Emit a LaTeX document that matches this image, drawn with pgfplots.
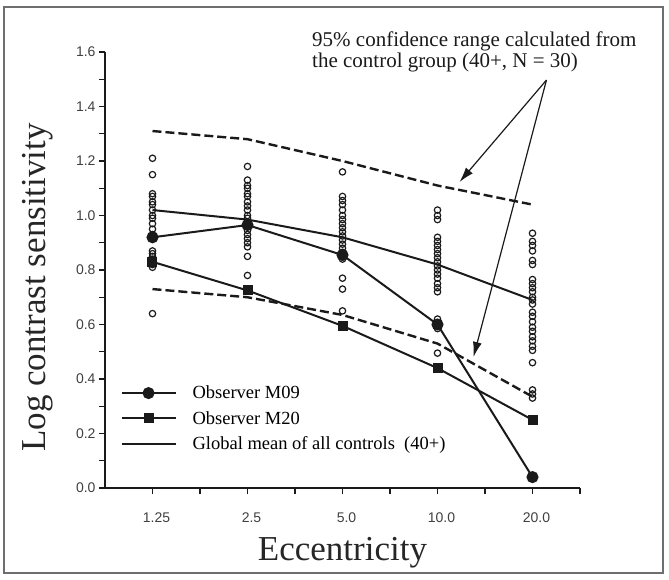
\documentclass[border=0pt]{standalone}
\usepackage{fontspec}
\setmainfont{Liberation Serif}
\setsansfont{Liberation Sans}
\usepackage{pgfplots}
\pgfplotsset{compat=1.18}
\usetikzlibrary{arrows.meta}

\definecolor{ink}{HTML}{1A1A1A}
\definecolor{framegray}{HTML}{6E6E6E}

\begin{document}
\begin{tikzpicture}
\path[use as bounding box] (0pt,0pt) rectangle (669pt,579pt);
\draw[framegray, line width=1.4pt] (4pt,6pt) rectangle (663pt,572pt);
\begin{axis}[
    at={(105pt,91pt)}, anchor=south west,
    scale only axis, width=475pt, height=436pt,
    xmin=-0.5, xmax=4.5, ymin=0, ymax=1.6,
    axis x line*=bottom, axis y line*=left,
    axis line style={-, line width=1.1pt, ink},
    xtick={0,1,2,3,4}, xticklabels={1.25,2.5,5.0,10.0,20.0},
    minor xtick={0.5,1.5,2.5,3.5,4.5},
    ytick={0,0.2,0.4,0.6,0.8,1.0,1.2,1.4,1.6},
    minor ytick={0.1,0.3,0.5,0.7,0.9,1.1,1.3,1.5},
    tick align=outside, major tick length=6pt, minor tick length=6pt,
    tick style={line width=1.1pt, ink},
    tick label style={font=\sffamily\fontsize{14}{14}\selectfont, text=black!75},
    yticklabel style={/pgf/number format/fixed, /pgf/number format/fixed zerofill,
        /pgf/number format/precision=1, /pgf/number format/assume math mode=true},
    xticklabel style={yshift=-15pt, xshift=4pt},
    xlabel={Eccentricity}, ylabel={Log contrast sensitivity},
    every axis y label/.style={at={(axis description cs:-0.141,0.46)}, rotate=90, anchor=center,
        font=\fontsize{35}{35}\selectfont, text=black!85},
    every axis x label/.style={at={(axis description cs:0.5,0)}, anchor=base,
        yshift=-72pt, font=\fontsize{35}{35}\selectfont, text=black!85},
    legend cell align=left,
    legend style={draw=none, fill=none, at={(axis cs:-0.37,0.39)}, anchor=north west,
        font=\fontsize{18.5}{18.5}\selectfont, row sep=7pt, column sep=14pt},
    legend image code/.code={\draw[mark repeat=2, mark phase=2, #1]
        plot coordinates {(0pt,0pt) (27pt,0pt) (54pt,0pt)};},
    clip=false,
]
% 95% confidence limits of the control group
\addplot[forget plot, ink, line width=2.4pt, dash pattern=on 9pt off 4pt] coordinates {
    (0,1.31) (1,1.28) (2,1.20) (3,1.11) (4,1.04)};
\addplot[forget plot, ink, line width=2.4pt, dash pattern=on 9pt off 4pt] coordinates {
    (0,0.73) (1,0.70) (2,0.635) (3,0.53) (4,0.335)};
% individual controls
\addplot[forget plot, only marks, mark=o, mark size=3.2pt, mark options={line width=1.2pt}, ink] coordinates {
    (0,1.21) (0,1.15) (0,1.08) (0,1.07) (0,1.05) (0,1.04) (0,1.02) (0,1.00) (0,0.99) (0,0.97)
    (0,0.95) (0,0.93) (0,0.92) (0,0.87) (0,0.86) (0,0.85) (0,0.84) (0,0.82) (0,0.81) (0,0.64)
    (1,1.18) (1,1.13) (1,1.11) (1,1.10) (1,1.08) (1,1.07) (1,1.05) (1,1.035) (1,1.02) (1,1.00)
    (1,0.99) (1,0.975) (1,0.96) (1,0.945) (1,0.93) (1,0.915) (1,0.90) (1,0.885) (1,0.85) (1,0.78)
    (2,1.16) (2,1.07) (2,1.055) (2,1.04) (2,1.02) (2,1.00) (2,0.985) (2,0.97) (2,0.955) (2,0.94)
    (2,0.925) (2,0.91) (2,0.895) (2,0.88) (2,0.865) (2,0.85) (2,0.84) (2,0.77) (2,0.73) (2,0.65)
    (3,1.02) (3,1.00) (3,0.985) (3,0.92) (3,0.905) (3,0.89) (3,0.875) (3,0.86) (3,0.845) (3,0.83)
    (3,0.815) (3,0.80) (3,0.785) (3,0.77) (3,0.75) (3,0.735) (3,0.72) (3,0.62) (3,0.60) (3,0.585) (3,0.495)
    (4,0.935) (4,0.905) (4,0.89) (4,0.87) (4,0.835) (4,0.82) (4,0.765) (4,0.75) (4,0.735) (4,0.72)
    (4,0.70) (4,0.69) (4,0.675) (4,0.645) (4,0.63) (4,0.61) (4,0.59) (4,0.575) (4,0.555) (4,0.54)
    (4,0.52) (4,0.505) (4,0.46) (4,0.36) (4,0.345) (4,0.33)};
\addplot[ink, line width=2pt, mark=*, mark size=5pt] coordinates {
    (0,0.92) (1,0.965) (2,0.855) (3,0.60) (4,0.04)};
\addlegendentry{Observer M09}
\addplot[ink, line width=2pt, mark=square*, mark size=4pt] coordinates {
    (0,0.83) (1,0.725) (2,0.595) (3,0.44) (4,0.25)};
\addlegendentry{Observer M20}
\addplot[ink, line width=2pt] coordinates {
    (0,1.02) (1,0.985) (2,0.92) (3,0.82) (4,0.69)};
\addlegendentry{Global mean of all controls\ \ (40+)}
% arrows to the confidence limits
\draw[ink, line width=1.2pt, -{Latex[length=15pt, width=9pt]}] (axis cs:4.147,1.497) -- (axis cs:3.232,1.123);
\draw[ink, line width=1.2pt, -{Latex[length=15pt, width=9pt]}] (axis cs:4.147,1.497) -- (axis cs:3.379,0.481);
\end{axis}
\node[anchor=base west, align=left, font=\fontsize{21}{21}\selectfont, text=ink, inner sep=0pt]
    at (312pt,511pt) {95\% confidence range calculated from\\the control group (40+, N = 30)};
\end{tikzpicture}
\end{document}
